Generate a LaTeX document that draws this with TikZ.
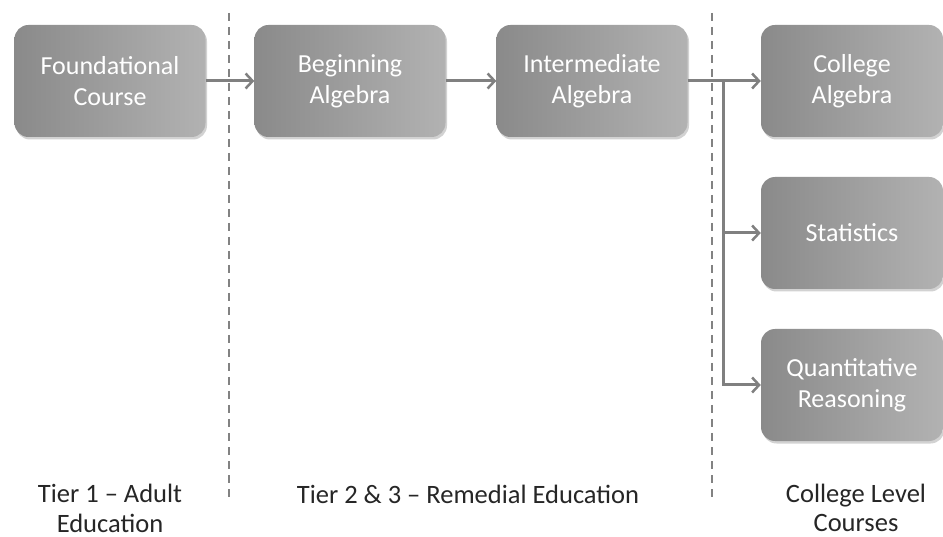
\documentclass[tikz,border=0pt]{standalone}
\usepackage{fontspec}
\setmainfont{Carlito}
\usetikzlibrary{arrows.meta,shadows,calc}
\begin{document}
\begin{tikzpicture}[x=1pt,y=-1pt,
  course/.style={rectangle, rounded corners=14pt, minimum width=191pt, minimum height=112pt,
    left color=boxdark, right color=boxlight, draw=none, text=white, align=center,
    font=\fontsize{26}{31}\selectfont,
    drop shadow={opacity=0.35, shadow xshift=1.5pt, shadow yshift=-2.5pt}},
  flow/.style={draw=arrowgray, line width=3pt, -{Straight Barb[length=7pt,width=15pt,line width=2.5pt]}},
  divider/.style={draw=dashgray, line width=2.5pt, dash pattern=on 8pt off 6pt},
  label/.style={align=center, text=black!85, font=\fontsize{26.5}{30}\selectfont, inner sep=0pt}]
\definecolor{boxdark}{RGB}{138,138,138}
\definecolor{boxlight}{RGB}{178,178,178}
\definecolor{arrowgray}{RGB}{128,128,128}
\definecolor{dashgray}{RGB}{130,130,130}
\useasboundingbox[fill=white] (0,0) rectangle (943,537);

\coordinate (d1top) at (229,13);
\coordinate (d1bot) at (229,500);
\coordinate (d2top) at (712,13);
\coordinate (d2bot) at (712,500);
\draw[divider] (d1top) -- (d1bot);
\draw[divider] (d2top) -- (d2bot);

\node[course] (F) at (110,81) {Foundational\\Course};
\node[course] (B) at (350,81) {Beginning\\Algebra};
\node[course] (I) at (592,81) {Intermediate\\Algebra};
\node[course, minimum width=182pt] (C) at (852,81) {College\\Algebra};
\node[course, minimum width=182pt] (S) at (852,233) {Statistics};
\node[course, minimum width=182pt] (Q) at (852,385) {Quantitative\\Reasoning};

\draw[flow] (F.east) -- (B.west);
\draw[flow] (B.east) -- (I.west);
\draw[flow] (I.east) -- (C.west);
\coordinate (br) at (723,81);
\draw[flow] (br) |- (Q.west);
\draw[flow] (br|-S.west) -- (S.west);

\node[label, anchor=base] (t1) at (110,532) {Tier 1 – Adult\\Education};
\node[label, anchor=base] (t2) at (468,503) {Tier 2 \& 3 – Remedial Education};
\node[label, anchor=base, font=\fontsize{26.5}{29}\selectfont] (t3) at (856,531) {College Level\\Courses};
\end{tikzpicture}
\end{document}
